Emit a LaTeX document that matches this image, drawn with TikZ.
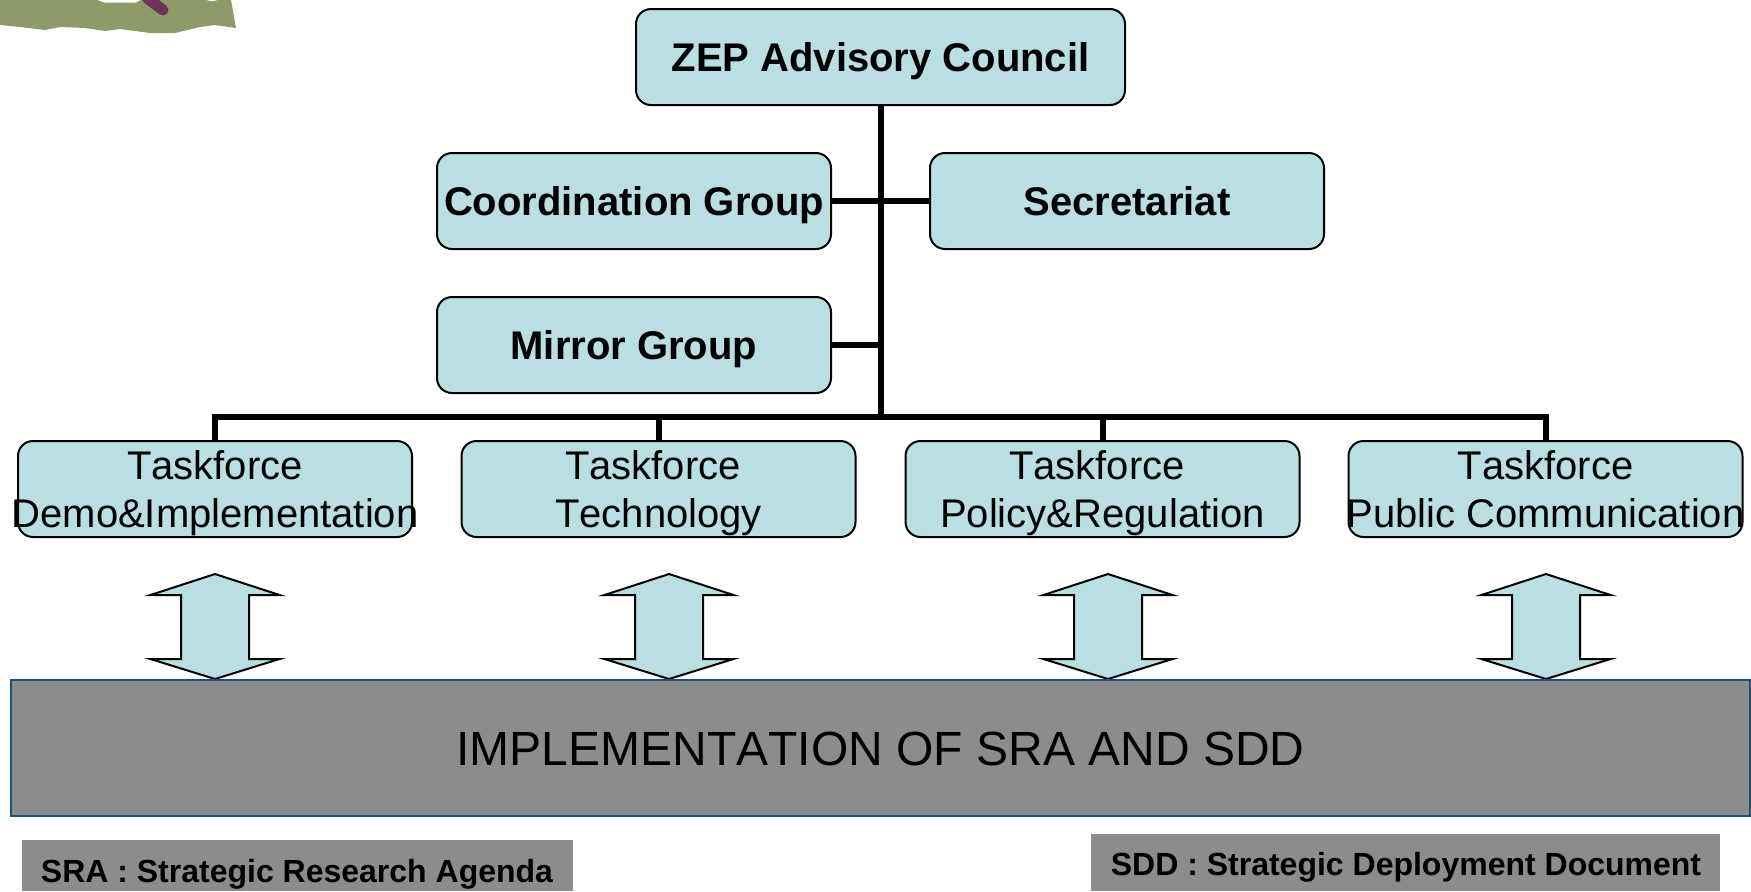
\documentclass[tikz,border=0pt]{standalone}
\usepackage{fontspec}
\setmainfont[Kerning=Off]{Liberation Sans}
\definecolor{boxblue}{HTML}{B9DFE3}
\definecolor{slate}{HTML}{8C8C8C}
\definecolor{edgeblue}{HTML}{1F4E79}
\definecolor{leaf}{HTML}{8E9A68}
\definecolor{plum}{HTML}{6E3358}
\newcommand{\flatline}[1]{\raisebox{0pt}[0pt][0pt]{#1}}
\tikzset{
  x=0.5pt,y=-0.5pt,
  orgbox/.style={draw=black,line width=1pt,fill=boxblue,rounded corners=7.5pt,minimum width=197pt,minimum height=48pt,inner sep=0pt,text=black,align=center,font=\fontsize{20}{24}\selectfont},
  headbox/.style={orgbox,font=\fontsize{20}{24}\selectfont\bfseries,text height=14.3pt,text depth=0pt},
  link/.style={draw=black,line width=3pt},
  updown/.style={draw=black,line width=1pt,fill=boxblue,line join=miter},
  band/.style={draw=edgeblue,line width=1pt,fill=slate,minimum width=869.5pt,minimum height=68pt,inner sep=0pt,font=\fontsize{24}{28}\selectfont},
  note/.style={fill=slate,inner sep=0pt,anchor=north west},
  notetext/.style={inner sep=0pt,font=\fontsize{16}{19}\selectfont\bfseries},
}
\begin{document}
\begin{tikzpicture}
\useasboundingbox (0,0) rectangle (1751,891);
% logo fragment
\fill[leaf] (0,0) -- (0,25) -- (20,27) -- (45,30) -- (60,27) -- (85,28) -- (105,31) -- (120,29) -- (150,33) -- (175,33) -- (200,27) -- (215,25) -- (236,28) -- (231,0) -- (218,0) -- (212,1.5) -- (206,0) -- (141,0) -- (136,2.5) -- (104,2.5) -- (97,0) -- cycle;
\draw[plum,line width=5.5pt,line cap=round] (147,-2) -- (163,10);
% boxes
\coordinate (bus) at (880.5,417);
\node[headbox,minimum width=244.5pt] (zep) at (880.5,57) {ZEP Advisory Council};
\node[headbox] (coord) at (634,201) {Coordination Group};
\node[headbox] (sec) at (1127,201) {Secretariat};
\node[headbox] (mirror) at (634,345) {Mirror Group};
\node[orgbox] (t1) at (215,489) {Taskforce\\\flatline{\makebox[0pt]{Demo\&Implementation}}};
\node[orgbox] (t2) at (658.5,489) {Taskforce\hspace*{5.56pt}\\\flatline{Technology}};
\node[orgbox] (t3) at (1102.5,489) {Taskforce\hspace*{5.56pt}\\\flatline{Policy\&Regulation}};
\node[orgbox] (t4) at (1545.5,489) {Taskforce\\\flatline{\makebox[0pt]{Public Communication}}};
% connectors
\draw[link] (zep.south) -- (bus);
\draw[link] (coord.east) -- (sec.west);
\draw[link] (mirror.east) -- (mirror.east -| bus);
\draw[link] (t1.north) |- (bus) -| (t4.north);
\draw[link] (t2.north) -- (t2.north |- bus);
\draw[link] (t3.north) -- (t3.north |- bus);
% double arrows
\foreach \cx in {215,669,1108,1546}
  \draw[updown] (\cx,574) -- ++(64.5,21) -- ++(-30.5,0) -- ++(0,64) -- ++(30.5,0) -- (\cx,679) -- ++(-64.5,-20) -- ++(30.5,0) -- ++(0,-64) -- ++(-30.5,0) -- cycle;
% implementation band
\node[band] (impl) at (880.5,748) {\raisebox{-0.7pt}[\height][\depth]{IMPLEMENTATION OF SRA AND SDD}};
% notes
\node[note,minimum width=275.5pt,minimum height=25.5pt] (sra) at (22,840) {};
\node[notetext] (sratext) at (297,874) {SRA : Strategic Research Agenda};
\node[note,minimum width=314.5pt,minimum height=28.5pt] (sdd) at (1091,834) {};
\node[notetext] (sddtext) at (1406,867) {SDD : Strategic Deployment Document};
\end{tikzpicture}
\end{document}
